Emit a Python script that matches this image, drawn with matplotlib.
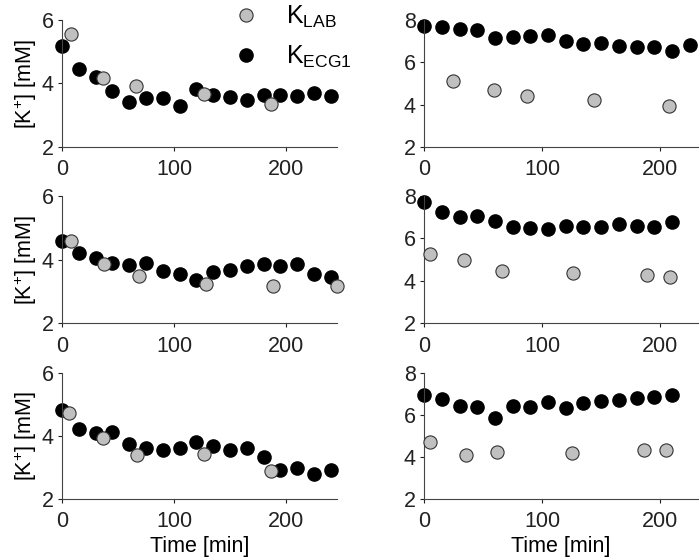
import numpy as np
import matplotlib
matplotlib.use("Agg")
import matplotlib.pyplot as plt

plt.rcParams['font.family'] = ['Liberation Sans', 'DejaVu Sans']
plt.rcParams['mathtext.fontset'] = 'custom'
plt.rcParams['mathtext.rm'] = 'Liberation Sans'
plt.rcParams['mathtext.it'] = 'Liberation Sans:italic'
plt.rcParams['mathtext.bf'] = 'Liberation Sans:bold'

# ECG-based estimates, every 15 min
t_ecg_left = np.arange(0, 241, 15)
t_ecg_right_top = np.arange(0, 226, 15)
t_ecg_right = np.arange(0, 211, 15)

ecg_a = [5.18, 4.45, 4.21, 3.77, 3.42, 3.54, 3.54, 3.28, 3.83, 3.64, 3.58, 3.49, 3.63, 3.63, 3.59, 3.69, 3.59]
ecg_b = [4.59, 4.21, 4.05, 3.89, 3.83, 3.88, 3.64, 3.54, 3.37, 3.62, 3.67, 3.81, 3.87, 3.81, 3.87, 3.54, 3.47]
ecg_c = [4.80, 4.21, 4.10, 4.12, 3.75, 3.62, 3.54, 3.60, 3.80, 3.67, 3.54, 3.61, 3.31, 2.91, 2.98, 2.78, 2.92]
ecg_d = [7.72, 7.68, 7.59, 7.54, 7.15, 7.18, 7.24, 7.30, 6.99, 6.89, 6.93, 6.77, 6.72, 6.74, 6.53, 6.80]
ecg_e = [7.73, 7.23, 7.02, 7.04, 6.80, 6.55, 6.49, 6.43, 6.60, 6.54, 6.52, 6.66, 6.58, 6.55, 6.76]
ecg_f = [6.95, 6.73, 6.40, 6.38, 5.83, 6.41, 6.35, 6.62, 6.32, 6.57, 6.67, 6.68, 6.79, 6.86, 6.95]

# lab measurements
lab_a_t = [7.7, 36.7, 65.9, 126.4, 186.6]
lab_a = [5.56, 4.17, 3.91, 3.67, 3.35]
lab_b_t = [8.3, 37.9, 68.3, 128.8, 188.7, 245.6]
lab_b = [4.59, 3.86, 3.50, 3.23, 3.16, 3.16]
lab_c_t = [6.6, 36.7, 66.5, 126.7, 186.9]
lab_c = [4.71, 3.93, 3.39, 3.43, 2.89]
lab_d_t = [24.2, 59.4, 86.8, 143.7, 207.6]
lab_d = [5.11, 4.71, 4.41, 4.22, 3.91]
lab_e_t = [5.1, 34.1, 65.6, 126.5, 188.5, 208.5]
lab_e = [5.28, 4.98, 4.47, 4.38, 4.27, 4.17]
lab_f_t = [5.1, 35.2, 62.0, 125.1, 186.2, 205.1]
lab_f = [4.70, 4.10, 4.21, 4.19, 4.30, 4.32]

fig = plt.figure(figsize=(7, 5.6), dpi=100)

rows = [(0.738, 0.226), (0.4227, 0.2273), (0.1095, 0.225)]
left_x, left_w = 0.0886, 0.393
right_x, right_w = 0.606, 0.391

panels = [
    (left_x, left_w, rows[0], t_ecg_left, ecg_a, lab_a_t, lab_a, 'L'),
    (right_x, right_w, rows[0], t_ecg_right_top, ecg_d, lab_d_t, lab_d, 'R'),
    (left_x, left_w, rows[1], t_ecg_left, ecg_b, lab_b_t, lab_b, 'L'),
    (right_x, right_w, rows[1], t_ecg_right, ecg_e, lab_e_t, lab_e, 'R'),
    (left_x, left_w, rows[2], t_ecg_left, ecg_c, lab_c_t, lab_c, 'L'),
    (right_x, right_w, rows[2], t_ecg_right, ecg_f, lab_f_t, lab_f, 'R'),
]

fs = 15.5
axes = []
for i, (x0, w, (y0, h), te, ke, tl, kl, side) in enumerate(panels):
    ax = fig.add_axes([x0, y0, w, h])
    ax.plot(tl, kl, 'o', ms=9.5, mfc='#c0c0c0', mec='#333333', mew=0.8,
            label=r'K$_{\mathrm{LAB}}$', clip_on=False, zorder=3)
    ax.plot(te, ke, 'o', ms=9.5, mfc='black', mec='black',
            label=r'K$_{\mathrm{ECG1}}$', clip_on=False, zorder=2)
    if side == 'L':
        ax.set_xlim(0, 245.6)
        ax.set_ylim(2, 6)
        ax.set_yticks([2, 4, 6])
        ax.set_ylabel(r'[K$^{+}$] [mM]', fontsize=fs, labelpad=2)
    else:
        ax.set_xlim(0, 232)
        ax.set_ylim(2, 8)
        ax.set_yticks([2, 4, 6, 8])
    ax.set_xticks([0, 100, 200])
    for s in ['top', 'right']:
        ax.spines[s].set_visible(False)
    for s in ['left', 'bottom']:
        ax.spines[s].set_linewidth(0.8)
        ax.spines[s].set_color('#444444')
    ax.tick_params(labelsize=fs, length=3, width=0.8, colors='#222222')
    ax.tick_params(axis='x', pad=6)
    ax.tick_params(axis='y', pad=3)
    if i >= 4:
        ax.set_xlabel('Time [min]', fontsize=fs, labelpad=3)
    axes.append(ax)

axes[0].legend(loc='upper left', bbox_to_anchor=(0.622, 1.13), frameon=False,
               fontsize=18, labelspacing=0.55, handlelength=1.0,
               handletextpad=1.1, borderpad=0, borderaxespad=0)

fig.savefig('out.png', dpi=100)
